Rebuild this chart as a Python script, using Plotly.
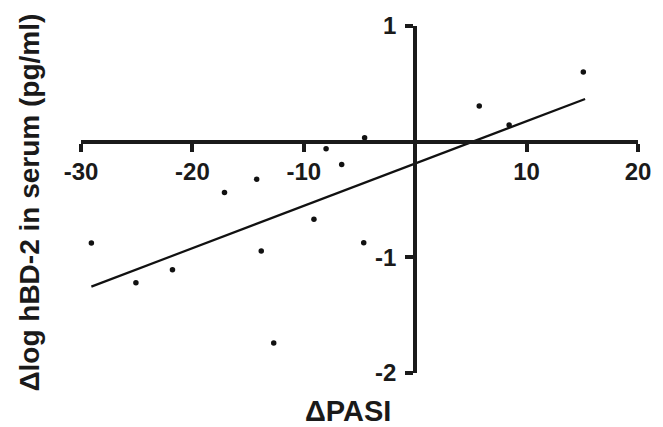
import plotly.graph_objects as go

# Data
delta_pasi = [-29.07, -25.07, -21.79, -17.12, -14.23, -13.82, -12.70, -9.09,
              -8.00, -6.60, -4.62, -4.54, 5.75, 8.43, 15.09]
delta_log_hbd2 = [-0.876, -1.220, -1.107, -0.439, -0.325, -0.945, -1.740, -0.671,
                  -0.062, -0.197, -0.873, 0.034, 0.309, 0.145, 0.603]
fit_x = [-29.07, 15.25]
fit_y = [-1.253, 0.369]

x_ticks = [-30, -20, -10, 10, 20]
y_ticks = [-2, -1, 1]

FONT = "Liberation Sans, Arial, Helvetica, sans-serif"

fig = go.Figure()
fig.add_trace(go.Scatter(x=fit_x, y=fit_y, mode="lines",
                         line=dict(color="#111111", width=2.2),
                         showlegend=False, hoverinfo="skip"))
fig.add_trace(go.Scatter(x=delta_pasi, y=delta_log_hbd2, mode="markers",
                         marker=dict(color="#111111", size=5.5),
                         showlegend=False))

axis_common = dict(
    showgrid=False, zeroline=False, showline=True, linecolor="#1a1a1a",
    linewidth=4, ticks="outside", ticklen=8, tickwidth=4, tickcolor="#1a1a1a",
    tickfont=dict(family=FONT, size=24, color="#1a1a1a", weight="bold"),
)

fig.update_layout(
    width=663, height=427,
    margin=dict(l=81, r=25, t=26, b=54),
    paper_bgcolor="white", plot_bgcolor="white",
    font=dict(family=FONT, color="#1a1a1a"),
    xaxis=dict(range=[-30, 20], tickvals=x_ticks, ticktext=[str(v) for v in x_ticks],
               anchor="free", position=2/3, side="bottom", domain=[0, 1],
               **axis_common),
    yaxis=dict(range=[-2, 1], tickvals=y_ticks, ticktext=[str(v) for v in y_ticks],
               anchor="free", position=0.6, side="left", domain=[0, 1],
               ticklabelstandoff=4, **axis_common),
    annotations=[
        dict(text="<b>ΔPASI</b>", xref="paper", yref="paper", x=0.48, y=-0.11,
             xanchor="center", yanchor="middle", showarrow=False,
             font=dict(family=FONT, size=29, color="#1a1a1a")),
        dict(text="<b>Δlog hBD-2 in serum (pg/ml)</b>", xref="paper", yref="paper",
             x=-0.0916, y=0.491, xanchor="center", yanchor="middle", textangle=-90,
             showarrow=False, font=dict(family=FONT, size=28, color="#1a1a1a")),
    ],
)

fig.write_html("out.html", config={"displayModeBar": False},
               post_script="document.body.style.margin='0';document.body.style.padding='0';")
